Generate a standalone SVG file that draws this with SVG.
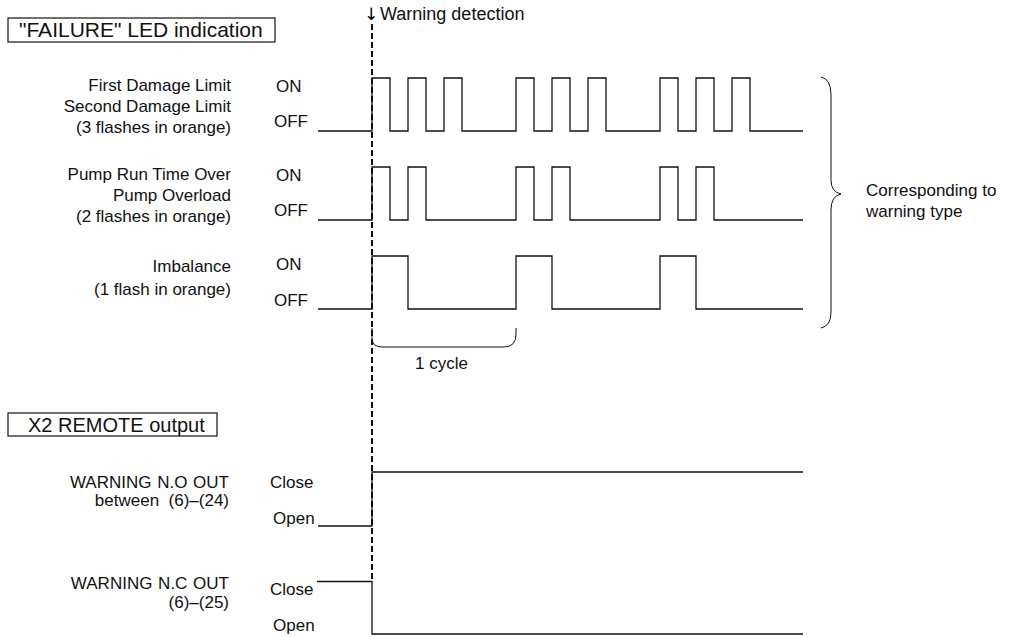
<svg xmlns="http://www.w3.org/2000/svg" width="1014" height="637" viewBox="0 0 1014 637">
<style>
text{font-family:"Liberation Sans",Arial,sans-serif;font-size:17px;fill:#111}
.h{font-size:20px}
.r{text-anchor:end}
.w{fill:none;stroke:#111;stroke-width:1.3}
.box{fill:none;stroke:#111;stroke-width:1.2}
.thin{fill:none;stroke:#111;stroke-width:1}
.dash{fill:none;stroke:#111;stroke-width:2;stroke-dasharray:6 3}
.arr{font-family:"DejaVu Sans",sans-serif;font-size:17px;text-anchor:middle;fill:#000}
</style>
<rect width="1014" height="637" fill="#fff"/>
<g id="header-led">
<rect class="box" x="8" y="18" width="267" height="24"/>
<text class="h" x="19" y="37" style="font-size:21px">"FAILURE" LED indication</text>
</g>
<g id="warning-marker">
<text class="arr" x="371" y="20">↓</text>
<text x="380" y="20" style="font-size:18px">Warning detection</text>
<line class="dash" x1="372" y1="24" x2="372" y2="582"/>
</g>
<g id="row-damage">
<text class="r" x="231" y="91">First Damage Limit</text>
<text class="r" x="231" y="112">Second Damage Limit</text>
<text class="r" x="231" y="133">(3 flashes in orange)</text>
<text x="276" y="92">ON</text>
<text x="274" y="127">OFF</text>
</g>
<g id="row-pump">
<text class="r" x="231" y="180">Pump Run Time Over</text>
<text class="r" x="231" y="201">Pump Overload</text>
<text class="r" x="231" y="222">(2 flashes in orange)</text>
<text x="276" y="181">ON</text>
<text x="274" y="216">OFF</text>
</g>
<g id="row-imbalance">
<text class="r" x="231" y="272">Imbalance</text>
<text class="r" x="231" y="295">(1 flash in orange)</text>
<text x="276" y="270">ON</text>
<text x="274" y="306">OFF</text>
</g>
<g id="header-x2">
<rect class="box" x="8" y="413" width="209" height="23"/>
<text class="h" x="28" y="432">X2 REMOTE output</text>
</g>
<g id="row-no">
<text class="r" x="229" y="488" style="word-spacing:1px">WARNING N.O OUT</text>
<text class="r" x="229" y="506">between&#160; (6)–(24)</text>
<text x="270" y="488">Close</text>
<text x="273" y="524">Open</text>
</g>
<g id="row-nc">
<text class="r" x="229" y="589" style="word-spacing:1px">WARNING N.C OUT</text>
<text class="r" x="229" y="608">(6)–(25)</text>
<text x="270" y="595">Close</text>
<text x="273" y="631">Open</text>
</g>
<g id="note">
<text x="866" y="196">Corresponding to</text>
<text x="866" y="217">warning type</text>
</g>
<g id="connectors">
<path class="w" d="M318,131 H372 V78 H390 V131 H408 V78 H426 V131 H444 V78 H462 V131 H516 V78 H534 V131 H552 V78 H570 V131 H588 V78 H606 V131 H660 V78 H678 V131 H696 V78 H714 V131 H732 V78 H750 V131 H803"/>
<path class="w" d="M318,220 H372 V167 H390 V220 H408 V167 H426 V220 H516 V167 H534 V220 H552 V167 H570 V220 H660 V167 H678 V220 H696 V167 H714 V220 H803"/>
<path class="w" d="M318,309 H372 V256 H408 V309 H516 V256 H552 V309 H660 V256 H696 V309 H803"/>
<path class="w" d="M318,526 H372 V472 H803"/>
<path class="w" d="M317,581.5 H372 V634 H803"/>
<path class="thin" d="M372,328 V338 Q372,347 382,347 H504 Q516,347 516,334 V328"/>
<text x="415" y="369">1 cycle</text>
<path class="thin" d="M821,77 Q831,79 831,95 V180 Q831,192 841,194 Q831,196 831,210 V312 Q831,326 821,328"/>
</g>
</svg>
